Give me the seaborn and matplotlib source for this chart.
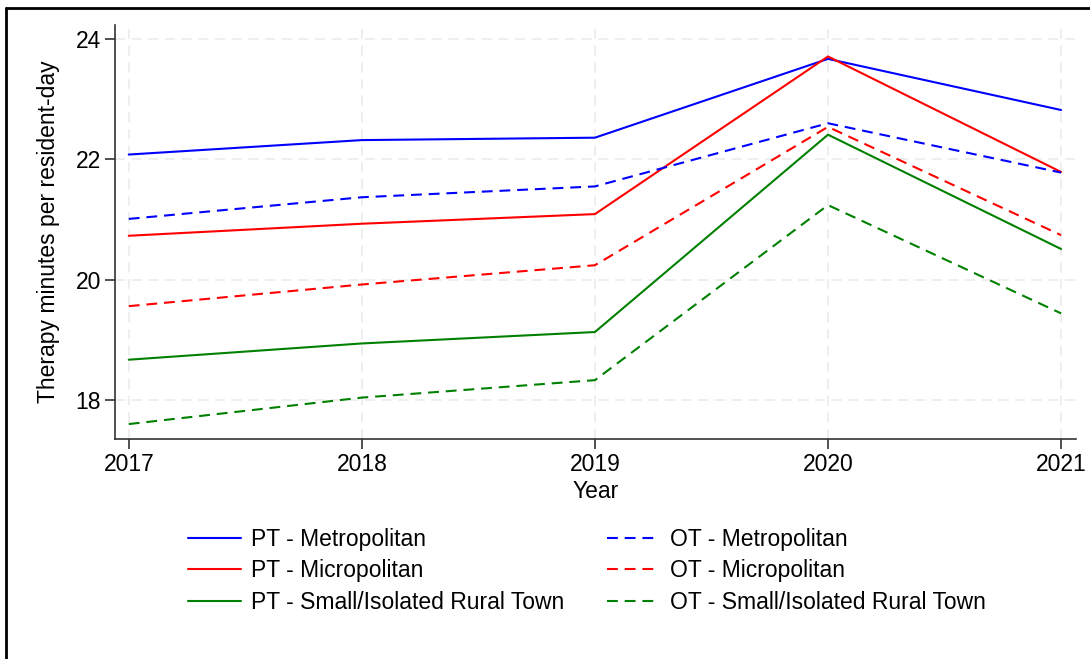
import matplotlib
matplotlib.use("Agg")
import matplotlib.pyplot as plt
from matplotlib.lines import Line2D
import seaborn as sns
import pandas as pd

years = [2017, 2018, 2019, 2020, 2021]

pt_metropolitan = [22.08, 22.32, 22.36, 23.67, 22.82]
pt_micropolitan = [20.73, 20.93, 21.09, 23.71, 21.79]
pt_rural = [18.67, 18.94, 19.13, 22.41, 20.51]
ot_metropolitan = [21.01, 21.37, 21.55, 22.60, 21.78]
ot_micropolitan = [19.56, 19.92, 20.24, 22.54, 20.74]
ot_rural = [17.60, 18.04, 18.33, 21.24, 19.44]

series_labels = [
    "PT - Metropolitan", "PT - Micropolitan", "PT - Small/Isolated Rural Town",
    "OT - Metropolitan", "OT - Micropolitan", "OT - Small/Isolated Rural Town",
]
series_values = [pt_metropolitan, pt_micropolitan, pt_rural,
                 ot_metropolitan, ot_micropolitan, ot_rural]
series_colors = ["#0000ff", "#ff0000", "#008000", "#0000ff", "#ff0000", "#008000"]
series_dashed = [False, False, False, True, True, True]

rows = []
for lab, vals in zip(series_labels, series_values):
    for yr, v in zip(years, vals):
        rows.append({"Year": yr, "Minutes": v, "Series": lab})
df = pd.DataFrame(rows)

sns.set_theme(style="white")
plt.rcParams["font.family"] = ["Liberation Sans", "DejaVu Sans"]
plt.rcParams["text.color"] = "black"
plt.rcParams["axes.labelcolor"] = "black"
plt.rcParams["xtick.color"] = "black"
plt.rcParams["ytick.color"] = "black"

fs = 16.5

fig = plt.figure(figsize=(10.9, 6.59), dpi=100)
ax = fig.add_axes([115 / 1090, 1 - 439 / 659, (1076 - 115) / 1090, (439 - 25) / 659])

lw = 1.5
dash = (5.2, 3.3)
handles = []
for lab, col, dashed in zip(series_labels, series_colors, series_dashed):
    sub = df[df["Series"] == lab]
    sns.lineplot(data=sub, x="Year", y="Minutes", ax=ax, color=col,
                 linewidth=lw, legend=False)
    line = ax.lines[-1]
    if dashed:
        line.set_dashes(dash)
    h = Line2D([], [], color=col, linewidth=lw)
    if dashed:
        h.set_dashes(dash)
    handles.append(h)

ax.set_xlim(2016.941, 2021.064)
ax.set_ylim(17.352, 24.233)
ax.set_xticks(years)
ax.set_xticklabels([str(y) for y in years])
ax.set_yticks([18, 20, 22, 24])

ax.grid(True, color="#ebebeb", linestyle=(0, (6, 4)), linewidth=1.2)
ax.set_axisbelow(True)
for s in ["top", "right"]:
    ax.spines[s].set_visible(False)
for s in ["left", "bottom"]:
    ax.spines[s].set_color("#333333")
    ax.spines[s].set_linewidth(1.2)
ax.tick_params(axis="both", which="both", direction="out", length=7, width=1.2,
               color="#333333", labelcolor="black", labelsize=fs, pad=3,
               left=True, bottom=True)

ax.set_xlabel("Year", fontsize=fs, labelpad=3)
ax.set_ylabel("Therapy minutes per resident-day", fontsize=fs, labelpad=11)

leg = ax.legend(handles, series_labels, ncol=2, frameon=False, fontsize=fs,
                loc="upper left", bbox_to_anchor=(64 / 961, -0.193),
                handlelength=2.3, handletextpad=0.45, columnspacing=1.85,
                labelspacing=0.36, borderaxespad=0)

# outer panel border
fig.add_artist(Line2D([6 / 1090, 6 / 1090], [0, 1 - 8 / 659], color="black",
                      linewidth=2, transform=fig.transFigure))
fig.add_artist(Line2D([6 / 1090, 1], [1 - 8 / 659, 1 - 8 / 659], color="black",
                      linewidth=2, transform=fig.transFigure))

fig.savefig("out.png", dpi=100)
